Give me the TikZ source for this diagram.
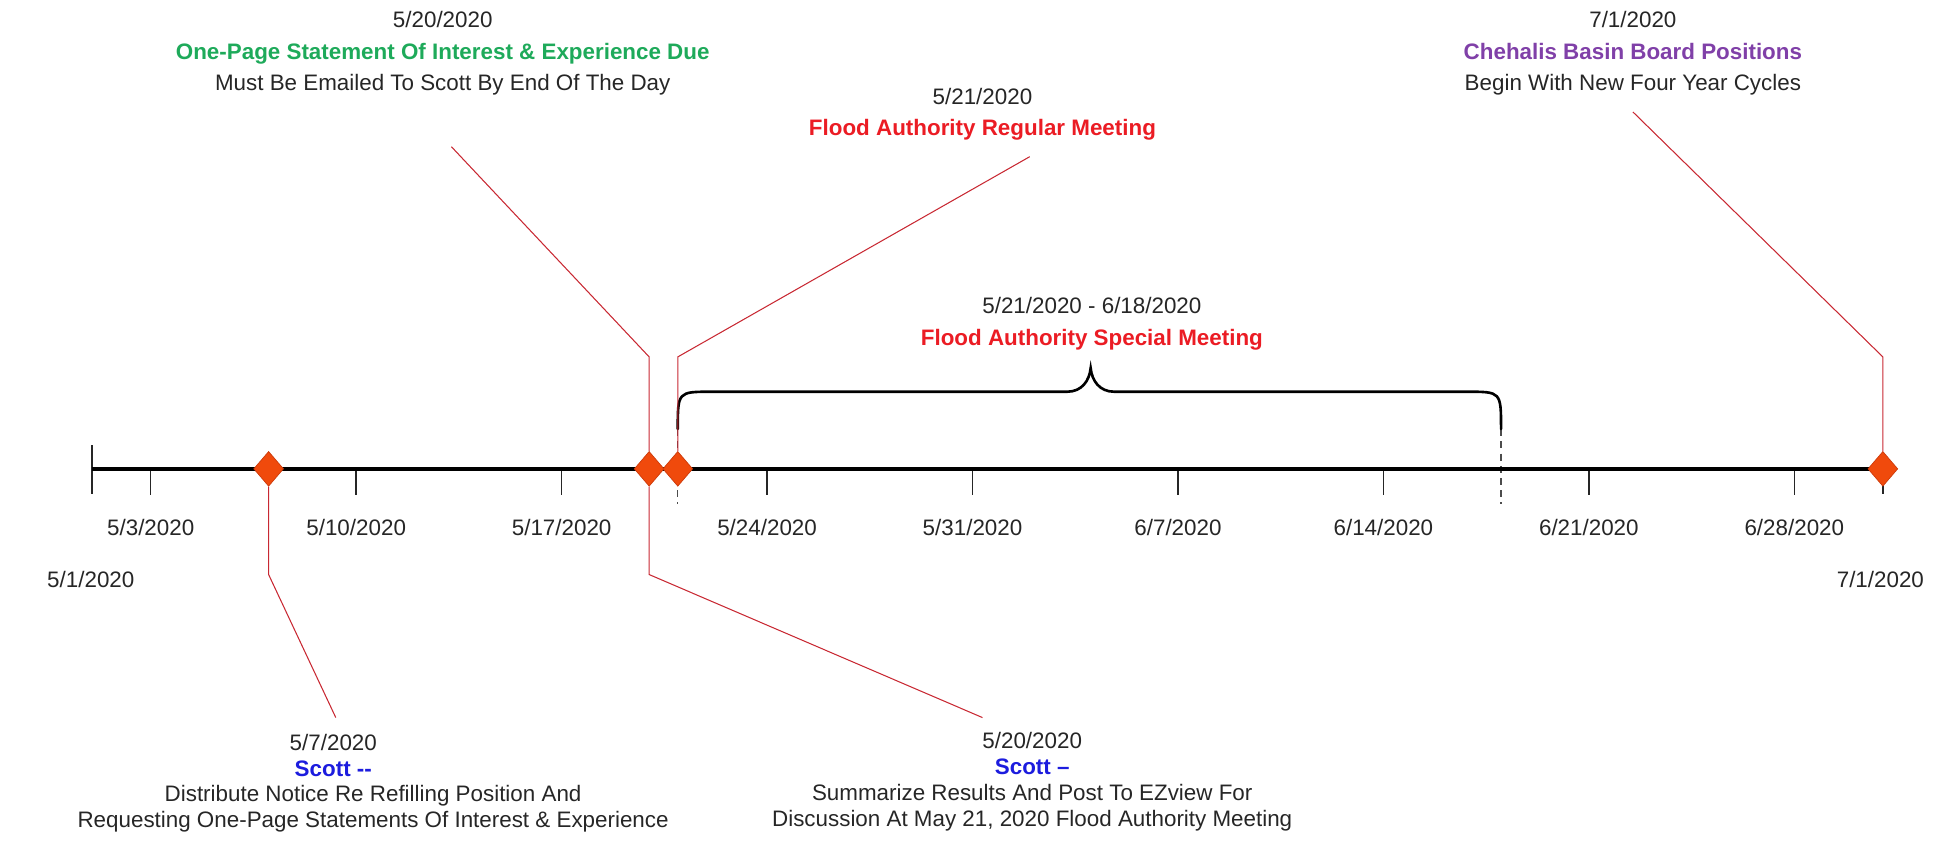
\documentclass[tikz,border=0pt]{standalone}
\usepackage{fontspec}
\setmainfont{Liberation Sans}
\usepackage{tikz}
\usetikzlibrary{shapes.geometric}

\definecolor{milestonefill}{RGB}{240,74,12}
\definecolor{milestonedraw}{RGB}{205,58,10}
\definecolor{calloutred}{RGB}{200,40,50}
\definecolor{textgray}{RGB}{38,38,38}
\definecolor{duegreen}{RGB}{30,170,90}
\definecolor{meetred}{RGB}{235,28,36}
\definecolor{scottblue}{RGB}{28,28,222}
\definecolor{boardpurple}{RGB}{128,64,168}

\begin{document}
\begin{tikzpicture}[x=0.025cm,y=-0.025cm,
		every node/.style={text=textgray,font=\fontsize{12.8}{15}\selectfont,inner sep=0pt},
		milestone/.style={diamond,draw=milestonedraw,fill=milestonefill,minimum width=0.6cm,minimum height=0.7cm},
		textblock/.style={align=center},
		tickline/.style={line width=0.8pt,black!85},
		calloutline/.style={line width=0.6pt,draw=calloutred},
		rangeline/.style={line width=0.8pt,black!70,dash pattern=on 4pt off 3pt}]
	\useasboundingbox (0,0) rectangle (1568,682);

	% axis and weekly ticks
	\coordinate (start) at (74,377);
	\coordinate (stop) at (1514,377);
	\draw[tickline] (74,358) -- (74,397);
	\draw[tickline] (1514,377) -- (1514,397);
	\foreach \d/\m/\n in {2/5/3,9/5/10,16/5/17,23/5/24,30/5/31,37/6/7,44/6/14,51/6/21,58/6/28}{
		\draw[tickline] ({74+23.6*\d},377) -- ++(0,21);
		\node (tick\d) at ({74+23.6*\d},424) {\m/\n/2020};
	}
	\node (first) at (73,466) {5/1/2020};
	\node (last) at (1512,466) {7/1/2020};

	% special meeting range
	\draw[rangeline] (545,345) -- (545,405);
	\draw[rangeline] (1207,345) -- (1207,405);
	\draw[line width=1.5pt,line cap=round] (545,345) .. controls (545,315) .. (572,315)
		-- (858,315) .. controls (870,315) and (876,306) .. (877,296)
		.. controls (878,306) and (884,315) .. (896,315)
		-- (1180,315) .. controls (1207,315) .. (1207,345);
	\node[textblock] (range) at (878,260.5) {5/21/2020 - 6/18/2020\\[3pt]{\color{meetred}\bfseries Flood Authority Special Meeting}};

	\draw[line width=2.5pt] (start) -- (stop);

	% milestones
	\node[milestone] (d0507) at (216,377) {};
	\node[milestone] (d0520) at (522,377) {};
	\node[milestone] (d0521) at (545,377) {};
	\node[milestone] (d0701) at (1514,377) {};

	% callout texts
	\node[textblock] (top0520) at (356,43) {5/20/2020\\[3pt]{\color{duegreen}\bfseries One-Page Statement Of Interest \& Experience Due}\\[3pt]Must Be Emailed To Scott By End Of The Day};
	\node[textblock] (top0521) at (790,92) {5/21/2020\\[3pt]{\color{meetred}\bfseries Flood Authority Regular Meeting}};
	\node[textblock] (top0701) at (1313,43) {7/1/2020\\[3pt]{\color{boardpurple}\bfseries Chehalis Basin Board Positions}\\[3pt]Begin With New Four Year Cycles};
	\node[textblock] (bot0507) at (268,607.5) {5/7/2020\\{\color{scottblue}\bfseries Scott -{}-}};
	\node[textblock] (note0507) at (300,650) {Distribute Notice Re Refilling Position And\\Requesting One-Page Statements Of Interest \& Experience};
	\node[textblock] (bot0520) at (830,628.5) {5/20/2020\\{\color{scottblue}\bfseries Scott \textendash}\\Summarize Results And Post To EZview For\\Discussion At May 21, 2020 Flood Authority Meeting};

	% callout lines
	\coordinate (k0507) at (216,462);
	\coordinate (e0507) at (270,577);
	\coordinate (k0520a) at (522,287);
	\coordinate (e0520a) at (363,118);
	\coordinate (k0520b) at (522,462);
	\coordinate (e0520b) at (790,577);
	\coordinate (k0521) at (545,287);
	\coordinate (e0521) at (828,126);
	\coordinate (k0701) at (1514,287);
	\coordinate (e0701) at (1313,90);
	\draw[calloutline] (d0507) -- (k0507) -- (e0507);
	\draw[calloutline] (d0520) -- (k0520a) -- (e0520a);
	\draw[calloutline] (d0520) -- (k0520b) -- (e0520b);
	\draw[calloutline] (d0521) -- (k0521) -- (e0521);
	\draw[calloutline] (d0701) -- (k0701) -- (e0701);
\end{tikzpicture}
\end{document}
